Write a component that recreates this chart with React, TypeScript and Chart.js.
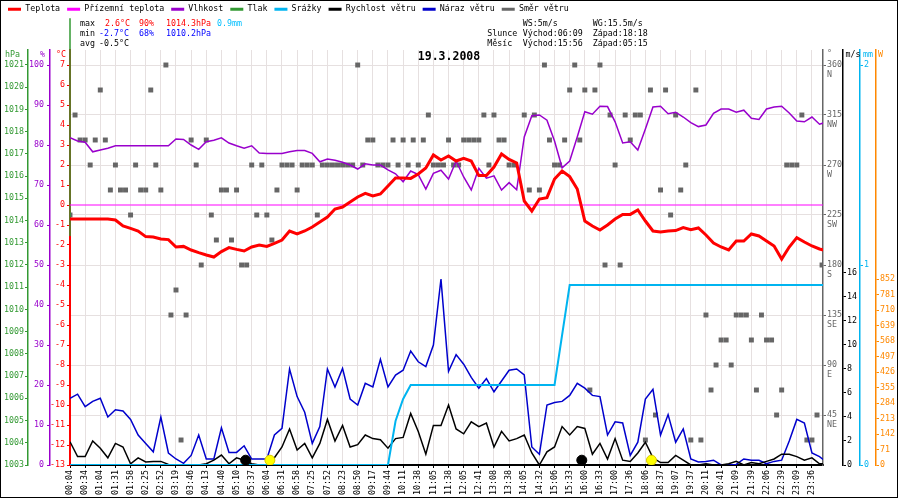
import { useEffect, useRef } from "react"
import { Chart, registerables } from "chart.js"

Chart.register(...registerables)

const FONT = "'DejaVu Sans Mono', monospace"
Chart.defaults.font = { family: FONT, size: 8.3 } as any
Chart.defaults.color = "#000"

// x axis: one tick per label
const TIME_LABELS = [
  "00:04", "00:34", "01:04", "01:31", "01:58", "02:25", "02:52", "03:19", "03:46", "04:13",
  "04:40", "05:10", "05:37", "06:04", "06:31", "06:58", "07:25", "07:52", "08:23", "08:50",
  "09:17", "09:44", "10:11", "10:38", "11:05", "11:38", "12:05", "12:41", "13:08", "13:38",
  "14:05", "14:32", "15:06", "15:33", "16:00", "16:33", "17:00", "17:36", "18:06", "18:37",
  "19:07", "19:37", "20:11", "20:41", "21:09", "21:39", "22:06", "22:39", "23:09", "23:36",
]
const X_MAX = 49.73

// samples every half label step
const STEP = 0.5
const TEMP = [
  -0.7, -0.7, -0.7, -0.7, -0.7, -0.7, -0.75, -1.05, -1.17, -1.3,
  -1.58, -1.6, -1.7, -1.73, -2.1, -2.07, -2.25, -2.38, -2.5, -2.6,
  -2.33, -2.13, -2.22, -2.3, -2.1, -2.0, -2.07, -1.92, -1.75, -1.3,
  -1.45, -1.3, -1.1, -0.85, -0.6, -0.2, -0.1, 0.15, 0.4, 0.58,
  0.45, 0.55, 0.95, 1.35, 1.35, 1.33, 1.55, 1.85, 2.5, 2.25,
  2.45, 2.2, 2.33, 2.2, 1.47, 1.47, 1.9, 2.55, 2.28, 2.1,
  0.2, -0.3, 0.3, 0.37, 1.3, 1.7, 1.42, 0.8, -0.8, -1.05,
  -1.25, -1.0, -0.7, -0.47, -0.47, -0.25, -0.8, -1.3, -1.35, -1.3,
  -1.28, -1.13, -1.23, -1.15, -1.5, -1.9, -2.1, -2.25, -1.8, -1.8,
  -1.45, -1.55, -1.8, -2.05, -2.7, -2.1, -1.63, -1.85, -2.05, -2.2,
  -2.3,
]
const HUMIDITY = [
  81.8, 81.0, 80.7, 78.3, 78.75, 79.2, 79.8, 79.8, 79.8, 79.8,
  79.8, 79.8, 79.8, 79.8, 81.5, 81.4, 80, 78.9, 80.8, 81.2,
  81.8, 80.5, 79.8, 79.2, 79.8, 78, 77.9, 77.9, 77.9, 78.3,
  78.6, 78.6, 77.9, 75.8, 76.5, 76.2, 75.7, 75, 74, 75.3,
  75, 75, 73.8, 72.8, 70.8, 73.5, 72.6, 69, 72.9, 73.7,
  71.5, 76, 72, 68.75, 74.2, 71.7, 72.3, 68.75, 70.6, 68.8,
  82, 87.3, 87.5, 86.2, 81, 74.3, 76, 82, 88.3, 87.7,
  89.7, 89.6, 85.8, 80.5, 80.8, 78.75, 84, 89.5, 89.7, 87.8,
  88.2, 87, 85.6, 84.6, 85, 87.9, 89, 89, 88.2, 88.7,
  86.7, 86.4, 89, 89.5, 89.7, 88, 86, 85.8, 87, 85.2,
  85.8,
]
const RAIN = [
  0, 0, 0, 0, 0, 0, 0, 0, 0, 0,
  0, 0, 0, 0, 0, 0, 0, 0, 0, 0,
  0, 0, 0, 0, 0, 0, 0, 0, 0, 0,
  0, 0, 0, 0, 0, 0, 0, 0, 0, 0,
  0, 0, 0, 0.22, 0.33, 0.4, 0.4, 0.4, 0.4, 0.4,
  0.4, 0.4, 0.4, 0.4, 0.4, 0.4, 0.4, 0.4, 0.4, 0.4,
  0.4, 0.4, 0.4, 0.4, 0.4, 0.65, 0.9, 0.9, 0.9, 0.9,
  0.9, 0.9, 0.9, 0.9, 0.9, 0.9, 0.9, 0.9, 0.9, 0.9,
  0.9, 0.9, 0.9, 0.9, 0.9, 0.9, 0.9, 0.9, 0.9, 0.9,
  0.9, 0.9, 0.9, 0.9, 0.9, 0.9, 0.9, 0.9, 0.9, 0.9,
  0.9,
]
const WIND_SPEED = [
  1.94, 0.7, 0.7, 2.0, 1.4, 0.6, 1.8, 1.5, 0.1, 0.6,
  0.25, 0.3, 0.3, 0.05, 0, 0, 0, 0, 0.1, 0.4,
  0.83, 0.1, 0.6, 0.4, 0.1, 0, 0.05, 0.6, 1.5, 3.0,
  1.25, 1.8, 0.6, 1.8, 3.8, 2.0, 3.3, 1.5, 1.7, 2.5,
  2.2, 2.1, 1.4, 2.2, 2.3, 4.3, 2.8, 0.9, 3.3, 3.3,
  5.0, 3.0, 2.6, 3.6, 3.2, 3.5, 1.5, 2.8, 2.0, 2.2,
  2.5, 1.0, 0, 1.1, 1.5, 3.2, 2.5, 3.2, 3.05, 0.9,
  1.8, 0.5, 2.2, 0.4, 0.3, 1.0, 1.9, 0.6, 0.2, 0.2,
  0.8, 0.4, 0, 0, 0.1, 0, 0, 0.1, 0.3, 0,
  0.2, 0.1, 0.3, 0.5, 0.9, 0.9, 0.7, 0.4, 0.6, 0.1,
  0.1,
]
const WIND_GUST = [
  5.56, 5.9, 4.86, 5.3, 5.56, 4.0, 4.6, 4.5, 3.8, 2.5,
  1.8, 1.1, 4.0, 1.0, 0.5, 0.14, 0.8, 2.5, 0.5, 0.5,
  3.1, 1.05, 1.05, 1.6, 0.5, 0.5, 0.5, 2.5, 3.05, 8.0,
  5.7, 4.4, 1.8, 3.2, 8.0, 6.5, 8.05, 5.5, 5.0, 6.8,
  6.5, 8.8, 6.5, 7.5, 7.9, 9.5, 8.6, 8.2, 10, 15.5,
  7.8, 9.2, 8.4, 7.3, 6.4, 7.2, 6.1, 7.0, 7.9, 8.0,
  7.5, 1.5, 0.9, 5.0, 5.2, 5.3, 5.8, 6.8, 6.4, 5.8,
  5.7, 2.5, 3.6, 3.5, 0.8, 1.9, 5.5, 6.3, 2.5, 4.2,
  1.9, 3.0, 0.5, 0.25, 0.3, 0.4, 0, 0, 0.05, 0.5,
  0.4, 0.4, 0.1, 0.3, 0.4, 2.0, 3.8, 3.5, 1.0, 0.7,
  0.2,
]

// ground temperature, one sample per label step
const GROUND_STEP = 1
const GROUND_TEMP = [
  0, 0, 0, 0, 0, 0, 0, 0, 0, 0, 0, 0, 0, 0, 0, 0, 0, 0, 0, 0, 0, 0, 0, 0, 0, 0,
  0, 0, 0, 0, 0, 0, 0, 0, 0, 0, 0, 0, 0, 0, 0, 0, 0, 0, 0, 0, 0, 0, 0, 0, 0,
]

// pressure trace, only drawn at the very first sample
const PRESSURE_X = [0, 0]
const PRESSURE = [1023.1, 1013.3]

// wind direction, one sample per third of a label step
const DIR_STEP = 1 / 3
const WIND_DIR = [
  225, 315, 292.5, 292.5, 270, 292.5, 337.5, 292.5, 247.5, 270, 247.5, 247.5, 225, 270, 247.5, 247.5,
  337.5, 270, 247.5, 360, 135, 157.5, 22.5, 135, 292.5, 270, 180, 292.5, 225, 202.5, 247.5, 247.5,
  202.5, 247.5, 180, 180, 270, 225,
  270, 225, 202.5, 247.5, 270, 270, 270, 247.5, 270, 270, 270, 225, 270, 270, 270, 270,
  270, 270, 270, 360, 270, 292.5, 292.5, 270, 270, 270, 292.5, 270, 292.5, 270, 292.5, 270,
  292.5, 315, 270, 270, 270, 292.5,
  270, 270, 292.5, 292.5, 292.5, 292.5, 315, 270, 315, 292.5, 292.5, 270, 270, null, 315, 247.5,
  315, 247.5, 360, 292.5, 270, 270, 292.5, 337.5, 360, 292.5, 337.5, 67.5, 337.5, 360, 180, 315,
  270, 180, 315, 292.5, 315,
  315, 22.5, 337.5, 45, 247.5, 337.5, 225, 315, 247.5, 270, 22.5, 337.5, 22.5, 135, 67.5, 90,
  112.5, 112.5, 90, 135, 135, 135, 112.5, 67.5, 135, 112.5, 112.5, 45, 67.5, 270, 270, 270,
  315, 22.5, 22.5, 45, 180,
]
const COMPASS = ["", "NE", "E", "SE", "S", "SW", "W", "NW", "N"]

// sun and moon events (moonset, sunrise, moonrise, sunset)
const ASTRO_LABELS = ["Měsíc západ 05:15", "Slunce východ 06:09", "Měsíc východ 15:56", "Slunce západ 18:18"]
const ASTRO_X = [11.6, 13.2, 33.8, 38.4]
const ASTRO_Y = [0.4, 0.4, 0.4, 0.4]
const ASTRO_COLORS = ["#000000", "#ffff00", "#000000", "#ffff00"]

const STATS_MAX = ["2.6°C", "90%", "1014.3hPa", "0.9mm"]
const STATS_MIN = ["-2.7°C", "68%", "1010.2hPa"]
const STATS_AVG = "-0.5°C"
const DATE_TEXT = "19.3.2008"

const RED = "#ff0000"
const MAGENTA = "#ff00ff"
const PURPLE = "#9900cc"
const GREEN = "#339933"
const CYAN = "#00b4f0"
const BLUE = "#0000cc"
const GRAY = "#666666"
const ORANGE = "#ff8800"
const GRID = "#e6e0e0"

const series = (values: (number | null)[], step: number) => values.map((y, i) => ({ x: i * step, y }))

const extrasPlugin = {
  id: "extras",
  afterDraw(chart: any) {
    const { ctx, chartArea, scales } = chart
    ctx.save()
    ctx.textBaseline = "middle"
    ctx.textAlign = "left"
    ctx.font = `8.3px ${FONT}`
    const put = (text: string, x: number, y: number, color: string) => {
      ctx.fillStyle = color
      ctx.fillText(text, x, y)
    }
    put("max", 79, 23, "#000")
    put(STATS_MAX[0], 104, 23, RED)
    put(STATS_MAX[1], 138, 23, RED)
    put(STATS_MAX[2], 165, 23, RED)
    put(STATS_MAX[3], 216, 23, "#00bfff")
    put("min", 79, 33, "#000")
    put(STATS_MIN[0], 98, 33, "#0000ff")
    put(STATS_MIN[1], 138, 33, "#0000ff")
    put(STATS_MIN[2], 165, 33, "#0000ff")
    put("avg", 79, 43, "#000")
    put(STATS_AVG, 98, 43, "#000")

    put("WS:5m/s", 521.7, 23, "#000")
    put("WG:15.5m/s", 591.7, 23, "#000")
    put("Slunce", 486.3, 33, "#000")
    put("Východ:06:09", 521.7, 33, "#000")
    put("Západ:18:18", 591.7, 33, "#000")
    put("Měsíc", 486.3, 43, "#000")
    put("Východ:15:56", 521.7, 43, "#000")
    put("Západ:05:15", 591.7, 43, "#000")

    // axis units
    const y = chartArea.top + 4.5
    ctx.textAlign = "right"
    put("hPa", scales.yP.right - 8, y, GREEN)
    put("%", scales.yH.right - 5, y, PURPLE)
    put("°C", scales.yT.right - 4, y, RED)
    ctx.textAlign = "left"
    put("°", scales.yD.left + 4, y - 1, GRAY)
    put("m/s", scales.yW.left + 2.5, y, "#000")
    put("mm", scales.yR.left + 3, y, CYAN)
    put("W", scales.ySol.left + 2, y, ORANGE)

    // date
    ctx.font = `bold 11.5px ${FONT}`
    ctx.textAlign = "center"
    put(DATE_TEXT, 448, chartArea.top + 7.5, "#000")
    ctx.restore()
  },
}

const plain = (v: any) => String(v)

const leftAxis = (min: number, max: number, step: number, color: string, weight: number, width: number, pad: number) => ({
  type: "linear",
  position: "left",
  min,
  max,
  weight,
  ticks: { stepSize: step, includeBounds: false, color, padding: pad, callback: plain },
  grid: { drawOnChartArea: false, color, tickLength: 3 },
  border: { color, width: color === RED ? 2 : 1.5 },
  afterFit: (s: any) => {
    s.width = width
  },
})

const rightAxis = (
  min: number,
  max: number,
  step: number,
  limit: number,
  color: string,
  weight: number,
  width: number
) => ({
  type: "linear",
  position: "right",
  min,
  max,
  weight,
  ticks: { stepSize: step, includeBounds: false, color, padding: 1, callback: plain },
  grid: { drawOnChartArea: false, color, tickLength: 3 },
  border: { color, width: 1.5 },
  afterBuildTicks: (s: any) => {
    s.ticks = s.ticks.filter((t: any) => t.value <= limit)
  },
  afterFit: (s: any) => {
    s.width = width
  },
})

export default function App() {
  const canvasRef = useRef<HTMLCanvasElement>(null)

  useEffect(() => {
    if (!canvasRef.current) return

    const line = (label: string, data: any[], color: string, yAxisID: string, width: number) => ({
      label,
      data,
      yAxisID,
      borderColor: color,
      backgroundColor: color,
      borderWidth: width,
      pointRadius: 0,
      tension: 0,
    })

    const datasets: any[] = [
      line("Teplota", series(TEMP, STEP), RED, "yT", 3),
      line("Přízemní teplota", series(GROUND_TEMP, GROUND_STEP), MAGENTA, "yT", 1),
      line("Vlhkost", series(HUMIDITY, STEP), PURPLE, "yH", 1.5),
      { ...line("Tlak", PRESSURE.map((y, i) => ({ x: PRESSURE_X[i], y })), GREEN, "yP", 1.5), clip: false },
      line("Srážky", series(RAIN, STEP), CYAN, "yR", 2),
      line("Rychlost větru", series(WIND_SPEED, STEP), "#000000", "yW", 1.5),
      line("Náraz větru", series(WIND_GUST, STEP), BLUE, "yW", 1.5),
      {
        label: "Směr větru",
        data: series(WIND_DIR, DIR_STEP),
        yAxisID: "yD",
        showLine: false,
        borderColor: GRAY,
        backgroundColor: GRAY,
        pointStyle: "rect",
        pointRadius: 3.5,
        pointBorderWidth: 0,
      },
      {
        label: "astro",
        data: ASTRO_X.map((x, i) => ({ x, y: ASTRO_Y[i], name: ASTRO_LABELS[i] })),
        yAxisID: "yW",
        showLine: false,
        order: -1,
        pointRadius: 5,
        pointBackgroundColor: ASTRO_COLORS,
        pointBorderColor: ASTRO_COLORS.map((c) => (c === "#ffff00" ? "#d8c800" : c)),
        pointBorderWidth: 1,
      },
    ]

    const chart = new Chart(canvasRef.current, {
      type: "line",
      data: { datasets },
      plugins: [extrasPlugin],
      options: {
        responsive: false,
        animation: false,
        layout: { padding: { top: -3, left: 0, right: 0, bottom: 0 } },
        plugins: {
          tooltip: { enabled: false },
          legend: {
            position: "top",
            align: "start",
            weight: 3000,
            labels: {
              boxWidth: 13,
              boxHeight: 3,
              padding: 7,
              color: "#000",
              font: { family: FONT, size: 8.3 },
              generateLabels: (c: any) =>
                c.data.datasets.slice(0, 8).map((ds: any, i: number) => ({
                  text: ds.label,
                  fillStyle: ds.borderColor,
                  strokeStyle: ds.borderColor,
                  lineWidth: 0,
                  hidden: false,
                  datasetIndex: i,
                  fontColor: "#000",
                })),
            },
          },
          title: {
            display: true,
            text: "",
            padding: { top: 0, bottom: 16.74 },
            font: { family: FONT, size: 8.3 },
          },
        } as any,
        scales: {
          x: {
            type: "linear",
            min: 0,
            max: X_MAX,
            ticks: {
              stepSize: 1,
              includeBounds: false,
              autoSkip: false,
              minRotation: 90,
              maxRotation: 90,
              padding: 2,
              color: "#000",
              callback: (v: any) => TIME_LABELS[v] ?? "",
            },
            grid: { color: GRID, tickColor: "#000", tickLength: 3 },
            border: { color: "#000", width: 2 },
            afterFit: (s: any) => {
              s.height = 32
            },
          },
          yT: leftAxis(-13, 7.75, 1, RED, 1, 20, 2),
          yH: leftAxis(0, 103.75, 10, PURPLE, 2, 22, 3),
          yP: leftAxis(1003, 1021.675, 1, GREEN, 3, 27, 1),
          yD: {
            type: "linear",
            position: "right",
            min: 0,
            max: 373.5,
            weight: 1,
            ticks: {
              stepSize: 45,
              includeBounds: false,
              color: GRAY,
              padding: 1,
              callback: (v: any) => (v === 0 ? null : ["", String(v), COMPASS[Math.round(v / 45)]]),
            },
            grid: { color: GRID, tickColor: GRAY, tickLength: 3 },
            border: { color: GRAY, width: 1.5 },
            afterFit: (s: any) => {
              s.width = 20
            },
          },
          yW: rightAxis(0, 34.583, 2, 16, "#000000", 2, 17),
          yR: rightAxis(0, 2.075, 1, 2, CYAN, 3, 16),
          ySol: rightAxis(0, 1901, 71, 852, ORANGE, 4, 21),
        } as any,
      },
    })

    return () => chart.destroy()
  }, [])

  return (
    <div
      style={{
        position: "fixed",
        left: 0,
        top: 0,
        width: 898,
        height: 498,
        border: "1px solid #000",
        boxSizing: "border-box",
        background: "#fff",
      }}
    >
      <canvas ref={canvasRef} width={896} height={496} style={{ display: "block" }} />
    </div>
  )
}
